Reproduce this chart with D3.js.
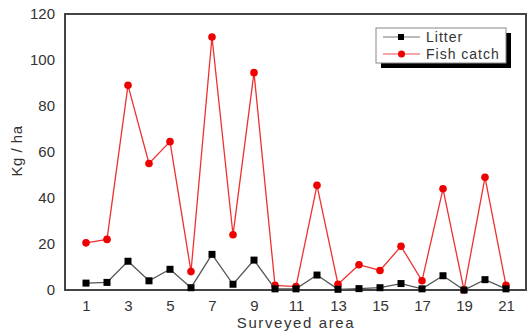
<!DOCTYPE html>
<html>
<head>
<meta charset="utf-8">
<script src="https://d3js.org/d3.v7.min.js"></script>
<style>
  body { margin: 0; background: #fff; }
  text { font-family: "Liberation Sans", Arial, sans-serif; fill: #333; }
</style>
</head>
<body>
<svg id="chart" width="527" height="334"></svg>
<script>
// surveyed areas 1..21
var areas = d3.range(1, 22);
var litter = [3, 3.3, 12.5, 4, 9, 1, 15.5, 2.5, 13, 0.5, 0.5, 6.5, 0.3, 0.6, 1, 2.8, 0.5, 6.2, 0, 4.5, 0.5];
var fishCatch = [20.5, 22, 89, 55, 64.5, 8, 110, 24, 94.5, 2, 1.5, 45.5, 2.5, 11, 8.5, 19, 4, 44, 0, 49, 2];
var xTicks = [1, 3, 5, 7, 9, 11, 13, 15, 17, 19, 21];
var yTicks = [0, 20, 40, 60, 80, 100, 120];

var svg = d3.select('#chart');
var pLeft = 65, pRight = 526, pTop = 14, pBottom = 290;

var x = d3.scaleLinear().domain([0, 22]).range([pLeft, 527]);
var y = d3.scaleLinear().domain([0, 120]).range([pBottom, pTop]);

// frame
svg.append('rect')
  .attr('x', pLeft).attr('y', pTop)
  .attr('width', pRight - pLeft).attr('height', pBottom - pTop)
  .attr('fill', 'none').attr('stroke', '#444').attr('stroke-width', 2);

// tick labels
var yAxis = d3.axisLeft(y).tickValues(yTicks).tickSize(0).tickPadding(10);
svg.append('g').attr('transform', 'translate(' + pLeft + ',0)').call(yAxis)
  .call(function(g) { g.select('.domain').remove(); })
  .selectAll('text').style('font-size', '15px').attr('fill', '#333')
  .style('font-family', '"Liberation Sans", Arial, sans-serif');

var xAxis = d3.axisBottom(x).tickValues(xTicks).tickSize(0).tickPadding(10);
svg.append('g').attr('transform', 'translate(0,' + pBottom + ')').call(xAxis)
  .call(function(g) { g.select('.domain').remove(); })
  .selectAll('text').style('font-size', '15px').attr('fill', '#333')
  .style('font-family', '"Liberation Sans", Arial, sans-serif');

// axis titles
svg.append('text').attr('x', 296).attr('y', 328).attr('text-anchor', 'middle')
  .style('font-size', '15px').style('letter-spacing', '1.6px').text('Surveyed area');
svg.append('text').attr('transform', 'translate(22,151) rotate(-90)').attr('text-anchor', 'middle')
  .style('font-size', '15px').style('letter-spacing', '0.5px').text('Kg / ha');

var line = d3.line().x(function(d, i) { return x(areas[i]); }).y(function(d) { return y(d); });

// fish catch
svg.append('path').datum(fishCatch).attr('d', line)
  .attr('fill', 'none').attr('stroke', '#f03030').attr('stroke-width', 1.3);
svg.selectAll('.fish').data(fishCatch).enter().append('circle')
  .attr('cx', function(d, i) { return x(areas[i]); }).attr('cy', function(d) { return y(d); })
  .attr('r', 3.8).attr('fill', '#ee0000');

// litter
svg.append('path').datum(litter).attr('d', line)
  .attr('fill', 'none').attr('stroke', '#555').attr('stroke-width', 1.3);
svg.selectAll('.lit').data(litter).enter().append('rect')
  .attr('x', function(d, i) { return x(areas[i]) - 3.5; }).attr('y', function(d) { return y(d) - 3.5; })
  .attr('width', 7).attr('height', 7).attr('fill', '#000');

// legend
var lg = svg.append('g');
lg.append('rect').attr('x', 381).attr('y', 33).attr('width', 130).attr('height', 35).attr('fill', '#000');
lg.append('rect').attr('x', 376).attr('y', 28).attr('width', 130).attr('height', 35)
  .attr('fill', '#fff').attr('stroke', '#888').attr('stroke-width', 1);
lg.append('line').attr('x1', 383).attr('x2', 420).attr('y1', 37).attr('y2', 37).attr('stroke', '#777');
lg.append('rect').attr('x', 398).attr('y', 34).attr('width', 6).attr('height', 6).attr('fill', '#000');
lg.append('line').attr('x1', 383).attr('x2', 420).attr('y1', 54).attr('y2', 54).attr('stroke', '#f05050');
lg.append('circle').attr('cx', 401.5).attr('cy', 54).attr('r', 3.5).attr('fill', '#ee0000');
lg.append('text').attr('x', 426).attr('y', 42).style('font-size', '14px').style('letter-spacing', '1px').text('Litter');
lg.append('text').attr('x', 426).attr('y', 59).style('font-size', '14px').style('letter-spacing', '1px').text('Fish catch');
</script>
</body>
</html>
